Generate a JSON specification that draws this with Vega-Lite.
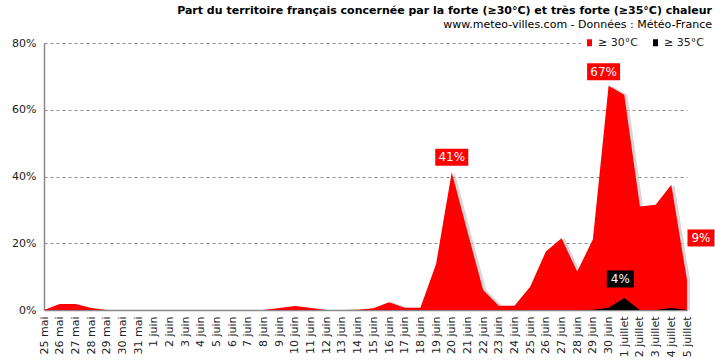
{
  "$schema": "https://vega.github.io/schema/vega-lite/v6.json",
  "width": 643,
  "height": 267,
  "autosize": {"type": "none"},
  "padding": {"left": 44, "top": 43, "right": 28, "bottom": 52},
  "background": "white",
  "view": {"stroke": null},
  "title": {
    "text": "Part du territoire français concernée par la forte (≥30°C) et très forte (≥35°C) chaleur",
    "subtitle": "www.meteo-villes.com - Données : Météo-France",
    "anchor": "end",
    "frame": "group",
    "dx": 25,
    "offset": 4,
    "font": "DejaVu Sans",
    "fontSize": 11,
    "fontWeight": "bold",
    "color": "#000000",
    "subtitleFont": "DejaVu Sans",
    "subtitleFontSize": 11,
    "subtitleColor": "#000000",
    "subtitlePadding": 3
  },
  "data": {
    "values": [
      {"jour": "25 mai", "chaud": 0, "tres_chaud": 0},
      {"jour": "26 mai", "chaud": 0.018, "tres_chaud": 0},
      {"jour": "27 mai", "chaud": 0.018, "tres_chaud": 0},
      {"jour": "28 mai", "chaud": 0.006, "tres_chaud": 0},
      {"jour": "29 mai", "chaud": 0, "tres_chaud": 0},
      {"jour": "30 mai", "chaud": 0, "tres_chaud": 0},
      {"jour": "31 mai", "chaud": 0, "tres_chaud": 0},
      {"jour": "1 juin", "chaud": 0, "tres_chaud": 0},
      {"jour": "2 juin", "chaud": 0, "tres_chaud": 0},
      {"jour": "3 juin", "chaud": 0, "tres_chaud": 0},
      {"jour": "4 juin", "chaud": 0, "tres_chaud": 0},
      {"jour": "5 juin", "chaud": 0, "tres_chaud": 0},
      {"jour": "6 juin", "chaud": 0, "tres_chaud": 0},
      {"jour": "7 juin", "chaud": 0, "tres_chaud": 0},
      {"jour": "8 juin", "chaud": 0, "tres_chaud": 0},
      {"jour": "9 juin", "chaud": 0.006, "tres_chaud": 0},
      {"jour": "10 juin", "chaud": 0.012, "tres_chaud": 0},
      {"jour": "11 juin", "chaud": 0.006, "tres_chaud": 0},
      {"jour": "12 juin", "chaud": 0, "tres_chaud": 0},
      {"jour": "13 juin", "chaud": 0, "tres_chaud": 0},
      {"jour": "14 juin", "chaud": 0.001, "tres_chaud": 0},
      {"jour": "15 juin", "chaud": 0.005, "tres_chaud": 0},
      {"jour": "16 juin", "chaud": 0.023, "tres_chaud": 0},
      {"jour": "17 juin", "chaud": 0.007, "tres_chaud": 0},
      {"jour": "18 juin", "chaud": 0.007, "tres_chaud": 0},
      {"jour": "19 juin", "chaud": 0.138, "tres_chaud": 0},
      {"jour": "20 juin", "chaud": 0.413, "tres_chaud": 0},
      {"jour": "21 juin", "chaud": 0.235, "tres_chaud": 0},
      {"jour": "22 juin", "chaud": 0.06, "tres_chaud": 0},
      {"jour": "23 juin", "chaud": 0.013, "tres_chaud": 0},
      {"jour": "24 juin", "chaud": 0.013, "tres_chaud": 0},
      {"jour": "25 juin", "chaud": 0.07, "tres_chaud": 0},
      {"jour": "26 juin", "chaud": 0.175, "tres_chaud": 0},
      {"jour": "27 juin", "chaud": 0.215, "tres_chaud": 0},
      {"jour": "28 juin", "chaud": 0.115, "tres_chaud": 0},
      {"jour": "29 juin", "chaud": 0.212, "tres_chaud": 0.001},
      {"jour": "30 juin", "chaud": 0.672, "tres_chaud": 0.007},
      {"jour": "1 juillet", "chaud": 0.645, "tres_chaud": 0.036},
      {"jour": "2 juillet", "chaud": 0.31, "tres_chaud": 0},
      {"jour": "3 juillet", "chaud": 0.315, "tres_chaud": 0},
      {"jour": "4 juillet", "chaud": 0.375, "tres_chaud": 0.006},
      {"jour": "5 juillet", "chaud": 0.09, "tres_chaud": 0}
    ]
  },
  "encoding": {
    "x": {
      "field": "jour",
      "type": "ordinal",
      "sort": null,
      "scale": {"type": "point", "padding": 0},
      "axis": {
        "title": null,
        "labelAngle": -90,
        "labelFont": "DejaVu Sans",
        "labelFontSize": 11,
        "labelColor": "#222222",
        "ticks": false,
        "domainColor": "#888888",
        "domainWidth": 1.5,
        "labelPadding": 6,
        "grid": false,
        "labelOverlap": false
      }
    }
  },
  "layer": [
    {
      "mark": {"type": "area", "color": "#bbbbbb", "opacity": 0.6, "xOffset": 3},
      "encoding": {
        "y": {
          "field": "chaud",
          "type": "quantitative",
          "scale": {"domain": [0, 0.8]},
          "axis": {
            "title": null,
            "format": ".0%",
            "values": [0, 0.2, 0.4, 0.6, 0.8],
            "ticks": false,
            "labelPadding": 8,
            "gridDash": [3, 3],
            "gridColor": "#888888",
            "domainColor": "#888888",
            "domainWidth": 1.5,
            "labelFont": "DejaVu Sans",
            "labelFontSize": 11,
            "labelColor": "#222222"
          }
        }
      }
    },
    {
      "mark": {"type": "area", "opacity": 1},
      "encoding": {
        "y": {"field": "chaud", "type": "quantitative"},
        "color": {
          "datum": "≥ 30°C",
          "type": "nominal",
          "scale": {"domain": ["≥ 30°C", "≥ 35°C"], "range": ["#ff0000", "#000000"]},
          "legend": {
            "title": null,
            "orient": "none",
            "direction": "horizontal",
            "legendX": 537,
            "legendY": -9,
            "fillColor": "white",
            "padding": 3,
            "symbolType": "M-0.714,-1L0.714,-1L0.714,1L-0.714,1Z",
            "symbolSize": 49,
            "symbolStrokeWidth": 0,
            "labelFont": "DejaVu Sans",
            "labelFontSize": 11,
            "labelColor": "#222222",
            "labelOffset": 3,
            "columnPadding": 12
          }
        }
      }
    },
    {
      "mark": {"type": "area", "opacity": 1},
      "encoding": {
        "y": {"field": "tres_chaud", "type": "quantitative"},
        "color": {"datum": "≥ 35°C", "type": "nominal"}
      }
    },
    {
      "transform": [{"filter": "datum.jour == '20 juin'"}],
      "layer": [
        {
          "mark": {"type": "point", "shape": "M-1,-0.515L1,-0.515L1,0.515L-1,0.515Z", "size": 1089, "filled": true, "opacity": 1, "color": "#ff0000", "strokeWidth": 0, "yOffset": -15},
          "encoding": {"y": {"field": "chaud", "type": "quantitative"}}
        },
        {
          "mark": {"type": "text", "color": "white", "font": "DejaVu Sans", "fontSize": 12, "baseline": "middle", "align": "center", "yOffset": -15},
          "encoding": {"y": {"field": "chaud", "type": "quantitative"}, "text": {"field": "chaud", "type": "quantitative", "format": ".0%"}}
        }
      ]
    },
    {
      "transform": [{"filter": "datum.jour == '30 juin'"}],
      "layer": [
        {
          "mark": {"type": "point", "shape": "M-1,-0.515L1,-0.515L1,0.515L-1,0.515Z", "size": 1089, "filled": true, "opacity": 1, "color": "#ff0000", "strokeWidth": 0, "xOffset": -5, "yOffset": -14},
          "encoding": {"y": {"field": "chaud", "type": "quantitative"}}
        },
        {
          "mark": {"type": "text", "color": "white", "font": "DejaVu Sans", "fontSize": 12, "baseline": "middle", "align": "center", "xOffset": -5, "yOffset": -14},
          "encoding": {"y": {"field": "chaud", "type": "quantitative"}, "text": {"field": "chaud", "type": "quantitative", "format": ".0%"}}
        }
      ]
    },
    {
      "transform": [{"filter": "datum.jour == '1 juillet'"}],
      "layer": [
        {
          "mark": {"type": "point", "shape": "M-1,-0.63L1,-0.63L1,0.63L-1,0.63Z", "size": 729, "filled": true, "opacity": 1, "color": "#000000", "strokeWidth": 0, "xOffset": -4, "yOffset": -19},
          "encoding": {"y": {"field": "tres_chaud", "type": "quantitative"}}
        },
        {
          "mark": {"type": "text", "color": "white", "font": "DejaVu Sans", "fontSize": 12, "baseline": "middle", "align": "center", "xOffset": -4, "yOffset": -19},
          "encoding": {"y": {"field": "tres_chaud", "type": "quantitative"}, "text": {"field": "tres_chaud", "type": "quantitative", "format": ".0%"}}
        }
      ]
    },
    {
      "transform": [{"filter": "datum.jour == '5 juillet'"}],
      "layer": [
        {
          "mark": {"type": "point", "shape": "M-1,-0.63L1,-0.63L1,0.63L-1,0.63Z", "size": 729, "filled": true, "opacity": 1, "color": "#ff0000", "strokeWidth": 0, "xOffset": 14, "yOffset": -42},
          "encoding": {"y": {"field": "chaud", "type": "quantitative"}}
        },
        {
          "mark": {"type": "text", "color": "white", "font": "DejaVu Sans", "fontSize": 12, "baseline": "middle", "align": "center", "xOffset": 14, "yOffset": -42},
          "encoding": {"y": {"field": "chaud", "type": "quantitative"}, "text": {"field": "chaud", "type": "quantitative", "format": ".0%"}}
        }
      ]
    }
  ]
}
